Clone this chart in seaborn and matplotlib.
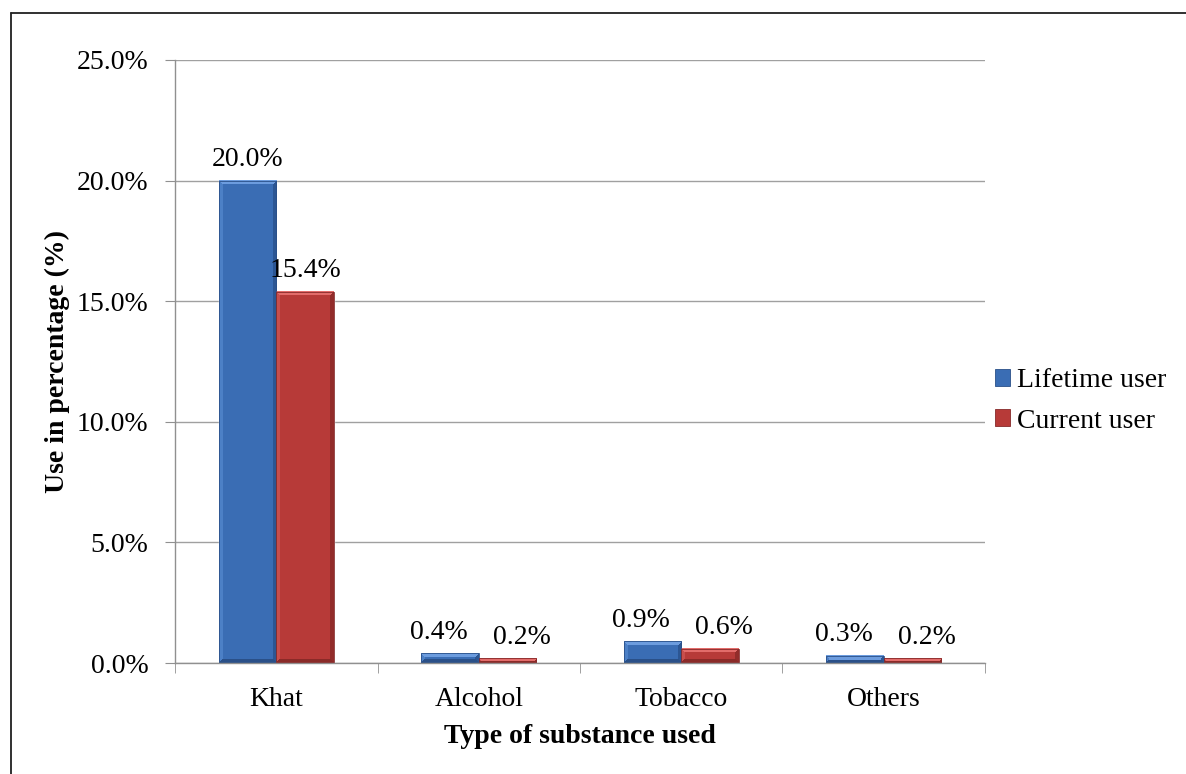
import matplotlib
matplotlib.use("Agg")
import matplotlib.pyplot as plt
import seaborn as sns
import pandas as pd
import numpy as np
from matplotlib.lines import Line2D
from matplotlib.colors import to_rgb

categories = ["Khat", "Alcohol", "Tobacco", "Others"]
lifetime = [20.0, 0.4, 0.9, 0.3]
current = [15.4, 0.2, 0.6, 0.2]
series = ["Lifetime user", "Current user"]
yticks = [0, 5, 10, 15, 20, 25]

df = pd.DataFrame({
    "cat": categories * 2,
    "val": lifetime + current,
    "series": [series[0]] * 4 + [series[1]] * 4,
})

sns.set_style("white")
plt.rcParams["font.family"] = ["Liberation Serif", "DejaVu Serif"]
plt.rcParams["text.color"] = "black"
plt.rcParams["axes.labelcolor"] = "black"
plt.rcParams["xtick.labelcolor"] = "black"
plt.rcParams["ytick.labelcolor"] = "black"

FS = 20

fig = plt.figure(figsize=(11.86, 7.74), dpi=100)
ax = fig.add_axes([0.1476, 0.1434, 0.8305 - 0.1476, 0.9225 - 0.1434])

palette = {series[0]: "#3A6DB4", series[1]: "#B73A38"}
sns.barplot(data=df, x="cat", y="val", hue="series", palette=palette,
            width=0.57, gap=0, ax=ax, saturation=1, legend=True)

ax.set_ylim(0, 25)
ax.set_xlim(-0.5, 3.5)

# bevel styling (Excel-like)
bevel = {
    series[0]: dict(base="#3A6DB4", top="#6C9CDE", left="#4C80C6", right="#2C5693",
                    bottom="#2A5088", edge="#2A5088"),
    series[1]: dict(base="#B73A38", top="#E26C6A", left="#C84E4C", right="#922C2A",
                    bottom="#8A2A28", edge="#862A2A"),
}


def bevel_image(c, wpx, hpx, b=4):
    img = np.empty((hpx, wpx, 3))
    img[:] = to_rgb(c["base"])
    yy, xx = np.mgrid[0:hpx, 0:wpx]
    dl, dr, dt, db = xx, wpx - 1 - xx, yy, hpx - 1 - yy
    m = np.minimum.reduce([dl, dr, dt, db])
    img[(dt == m) & (dt < b)] = to_rgb(c["top"])
    img[(db == m) & (db < b) & (dt != m)] = to_rgb(c["bottom"])
    img[(dl == m) & (dl < b) & (dt != m) & (db != m)] = to_rgb(c["left"])
    img[(dr == m) & (dr < b) & (dt != m) & (db != m)] = to_rgb(c["right"])
    return img


for cont, s in zip(ax.containers, series):
    for p in cont:
        x0, y0 = p.get_x(), p.get_y()
        w, h = p.get_width(), p.get_height()
        (px0, py0), (px1, py1) = ax.transData.transform([(x0, y0), (x0 + w, y0 + h)])
        wpx = max(2, int(round(px1 - px0)))
        hpx = max(2, int(round(py1 - py0)))
        img = bevel_image(bevel[s], wpx, hpx)
        ax.imshow(img, aspect="auto", extent=(x0, x0 + w, y0, y0 + h),
                  zorder=p.get_zorder() + 0.1, interpolation="nearest")
        ax.add_patch(plt.Rectangle((x0, y0), w, h, fill=False, edgecolor=bevel[s]["edge"],
                                   linewidth=0.6, zorder=p.get_zorder() + 0.2))

# data labels
c0, c1 = ax.containers[0], ax.containers[1]
anns0 = ax.bar_label(c0, labels=[f"{v:.1f}%" for v in c0.datavalues], padding=6,
                     fontsize=FS, color="black")
anns1 = ax.bar_label(c1, labels=[f"{v:.1f}%" for v in c1.datavalues], padding=6,
                     fontsize=FS, color="black")
for a0, a1, v0, v1 in zip(anns0, anns1, c0.datavalues, c1.datavalues):
    if abs(v0 - v1) < 2:  # crowded labels: spread apart
        a0.xyann = (-8, 6)
        a1.xyann = (10, 6)

ax.set_ylim(0, 25)
ax.set_xlim(-0.5, 3.5)
ax.set_yticks(yticks)
ax.set_yticklabels([f"{v:.1f}%" for v in yticks], fontsize=FS)
ax.yaxis.grid(True, color="#A0A0A0", linewidth=1)
ax.set_axisbelow(True)

ax.set_xticks([0, 1, 2, 3])
ax.set_xticklabels(categories, fontsize=FS)
ax.tick_params(axis="x", length=0, pad=17, labelcolor="black")
ax.tick_params(axis="y", length=7, color="#909090", left=True, pad=12, labelcolor="black")
ax.set_xticks([-0.5, 0.5, 1.5, 2.5, 3.5], minor=True)
ax.tick_params(axis="x", which="minor", length=7, color="#909090", bottom=True)

for s in ["top", "right"]:
    ax.spines[s].set_visible(False)
for s in ["left", "bottom"]:
    ax.spines[s].set_color("#909090")
    ax.spines[s].set_linewidth(1)

ax.set_xlabel("Type of substance used", fontsize=FS, fontweight="bold", labelpad=9, color="black")
ax.set_ylabel("Use in percentage (%)", fontsize=FS, fontweight="bold", labelpad=5, color="black")

handles, labels = ax.get_legend_handles_labels()
leg = ax.legend(handles, labels, loc="center left", bbox_to_anchor=(995 / 1186, 1 - 401 / 774),
                bbox_transform=fig.transFigure, frameon=False,
                fontsize=FS, handlelength=0.55, handleheight=0.55,
                handletextpad=0.25, labelspacing=0.55, borderaxespad=0.0, borderpad=0.0,
                labelcolor="black")
for hdl, s in zip(leg.legend_handles, series):
    hdl.set_edgecolor(bevel[s]["edge"])
    hdl.set_linewidth(0.6)

fig.add_artist(Line2D([11 / 1186, 1], [1 - 13 / 774, 1 - 13 / 774], transform=fig.transFigure,
                      color="#202020", linewidth=1.3))
fig.add_artist(Line2D([11 / 1186, 11 / 1186], [0, 1 - 13 / 774], transform=fig.transFigure,
                      color="#202020", linewidth=1.3))

fig.savefig("out.png", dpi=100, facecolor="white")
